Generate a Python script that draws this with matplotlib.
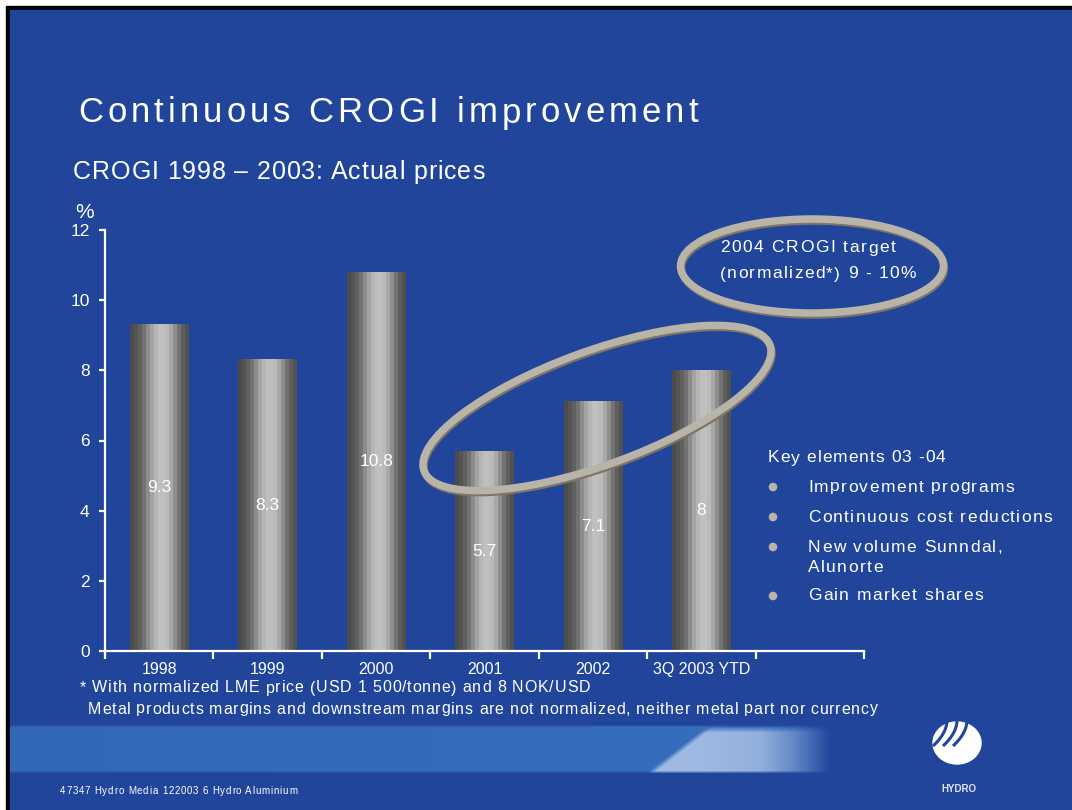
import numpy as np
import matplotlib
matplotlib.use("Agg")
import matplotlib.pyplot as plt
from matplotlib.colors import to_rgb
from matplotlib.font_manager import FontProperties
from matplotlib.patches import Ellipse, Rectangle, Circle
from matplotlib.textpath import text_to_path

# --- data -------------------------------------------------------------
categories = ["1998", "1999", "2000", "2001", "2002", "3Q 2003 YTD"]
crogi = [9.3, 8.3, 10.8, 5.7, 7.1, 8.0]
value_labels = ["9.3", "8.3", "10.8", "5.7", "7.1", "8"]
y_ticks = [0, 2, 4, 6, 8, 10, 12]
key_elements = ["Improvement programs", "Continuous cost reductions",
                "New volume Sunndal,", "Gain market shares"]

BG = "#21459a"
RING = "#b8b4aa"
RING_SHADOW = "#7f7564"
FONT = "Liberation Sans"
W, H = 1072, 810


def spaced_text(ax, x, y, s, size, spacing, color="white", **kw):
    """Draw text char by char with extra letter spacing (px)."""
    fp = FontProperties(family=FONT, size=size, **kw)
    k = 100 / 72
    for i, ch in enumerate(s):
        if ch == " ":
            continue
        full = text_to_path.get_text_width_height_descent(s[:i + 1], fp, ismath=False)[0]
        own = text_to_path.get_text_width_height_descent(ch, fp, ismath=False)[0]
        left = (full - own) * k if i else 0
        ax.text(x + left + i * spacing, y, ch, fontproperties=fp, color=color,
                ha="left", va="center")


fig = plt.figure(figsize=(W / 100, H / 100), dpi=100)
fig.patch.set_facecolor("white")

# background layer in pixel coords (y down)
bg = fig.add_axes([0, 0, 1, 1])
bg.add_patch(Rectangle((6, 6), W, H, color="black", zorder=0.5))
bg.add_patch(Rectangle((10, 10), W, H, color=BG, zorder=0.6))

# footer band with light streak
band_h, band_w = 48, W - 10
yy, xx = np.mgrid[0:band_h, 0:band_w]
xpix = xx + 10.0
ypix = yy + 725.0
vert = np.clip(np.minimum(yy + 1, band_h - yy) / 3.0, 0, 1)
a_light = np.interp(xpix, [10, 700, 790, 830], [0.7, 0.8, 0.55, 0.0]) * vert
base = np.array(to_rgb(BG))
light = np.array(to_rgb("#3a78c4"))
img = base * (1 - a_light[..., None]) + light * a_light[..., None]
d = xpix - (713 - (ypix - 727) * 1.3)
a_white = np.where(d < 0, np.clip(1 + d / 8, 0, 1), 1.0)
a_white = a_white * 0.65 * vert * np.interp(xpix, [700, 760, 795, 830], [1, 0.9, 0.45, 0])
a_white = a_white * np.clip((ypix - 726) / 6, 0, 1)
tint = np.array(to_rgb("#d8e4f8"))
img = img * (1 - a_white[..., None]) + tint * a_white[..., None]
bg.imshow(img, extent=(10, W, 773, 725), aspect="auto", interpolation="bilinear", zorder=1)

# logo
bg.add_patch(Ellipse((957, 743), 48, 42, color="white", zorder=2))
for sx in (947, 957, 967):
    t = np.linspace(0, 1, 20)
    bg.plot(sx - 14 * t ** 2, 720 + 26 * t, color=BG, lw=2.2, solid_capstyle="butt", zorder=3)
bg.text(959, 789, "HYDRO", color="#dfe3f5", fontsize=7, fontweight="bold",
        family=FONT, ha="center", va="center")
bg.set_xlim(0, W)
bg.set_ylim(H, 0)
bg.axis("off")

# --- chart ------------------------------------------------------------
ax = fig.add_axes([105 / W, 1 - 651 / H, (864 - 105) / W, (651 - 230) / H])
ax.patch.set_alpha(0)
x = np.arange(len(categories)) + 0.5
bars = ax.bar(x, crogi, width=0.54, color="none")
shade = np.array([0.30, 0.33, 0.38, 0.45, 0.55, 0.64, 0.71, 0.75, 0.75, 0.73,
                  0.66, 0.56, 0.45, 0.37, 0.32])
grad = np.repeat(shade[None, :, None], 3, axis=2)
for b, lab in zip(bars, value_labels):
    x0, h = b.get_x(), b.get_height()
    ax.imshow(grad, extent=(x0, x0 + b.get_width(), 0, h), aspect="auto",
              interpolation="nearest", zorder=2)
    ax.text(x0 + b.get_width() / 2, h / 2, lab, color="white", fontsize=12.5,
            family=FONT, ha="center", va="center", zorder=3)

ax.set_xlim(0, 7)
ax.set_ylim(0, 12)
for s in ("top", "right"):
    ax.spines[s].set_visible(False)
for s in ("left", "bottom"):
    ax.spines[s].set_color("white")
    ax.spines[s].set_linewidth(1.6)
ax.set_yticks(y_ticks)
ax.set_yticklabels([str(v) for v in y_ticks], color="white", fontsize=12.5, family=FONT)
ax.tick_params(axis="y", colors="white", length=4, width=1.6, pad=7)
ax.set_xticks(np.arange(8))
ax.set_xticklabels([])
ax.tick_params(axis="x", which="major", colors="white", length=6, width=1.6)
ax.set_xticks(x, minor=True)
ax.set_xticklabels(categories, minor=True, color="white", fontsize=11.5, family=FONT)
ax.tick_params(axis="x", which="minor", length=0, pad=8)

# --- overlay: rings and text ------------------------------------------
top = fig.add_axes([0, 0, 1, 1])
top.patch.set_alpha(0)
for (cx, cy, w, h, ang) in [(812, 266, 263, 94, 0), (597, 408, 368, 114, -20)]:
    top.add_patch(Ellipse((cx + 1, cy + 2), w, h, angle=ang, fill=False,
                          ec=RING_SHADOW, lw=5.4))
    top.add_patch(Ellipse((cx, cy), w, h, angle=ang, fill=False, ec=RING, lw=5.4))

spaced_text(top, 78, 113, "Continuous CROGI improvement", 25, 4.1)
spaced_text(top, 73, 172, "CROGI 1998 \u2013 2003: Actual prices", 18, 0.9)
top.text(75, 212, "%", color="white", fontsize=15, family=FONT, ha="left", va="center")

spaced_text(top, 720, 248, "2004 CROGI target", 12.5, 1.6)
spaced_text(top, 720, 274, "(normalized*) 9 - 10%", 12.5, 1.4)

spaced_text(top, 768, 458, "Key elements 03 -04", 12.5, 1.0)
for yv, item in zip([487, 517, 547, 596], key_elements):
    top.add_patch(Circle((773, yv), 3.6, color=RING))
    spaced_text(top, 808, yv, item, 12.5, 1.4)
spaced_text(top, 808, 567, "Alunorte", 12.5, 1.4)

spaced_text(top, 80, 688, "* With normalized LME price (USD 1 500/tonne) and 8 NOK/USD",
            11.5, 0.85)
spaced_text(top, 88, 709, "Metal products margins and downstream margins are not normalized, "
            "neither metal part nor currency", 11.5, 0.8)
spaced_text(top, 60, 791, "47347 Hydro Media 122003 6 Hydro Aluminium", 7, 0.8)

top.set_xlim(0, W)
top.set_ylim(H, 0)
top.axis("off")

fig.savefig("out.png", dpi=100)
